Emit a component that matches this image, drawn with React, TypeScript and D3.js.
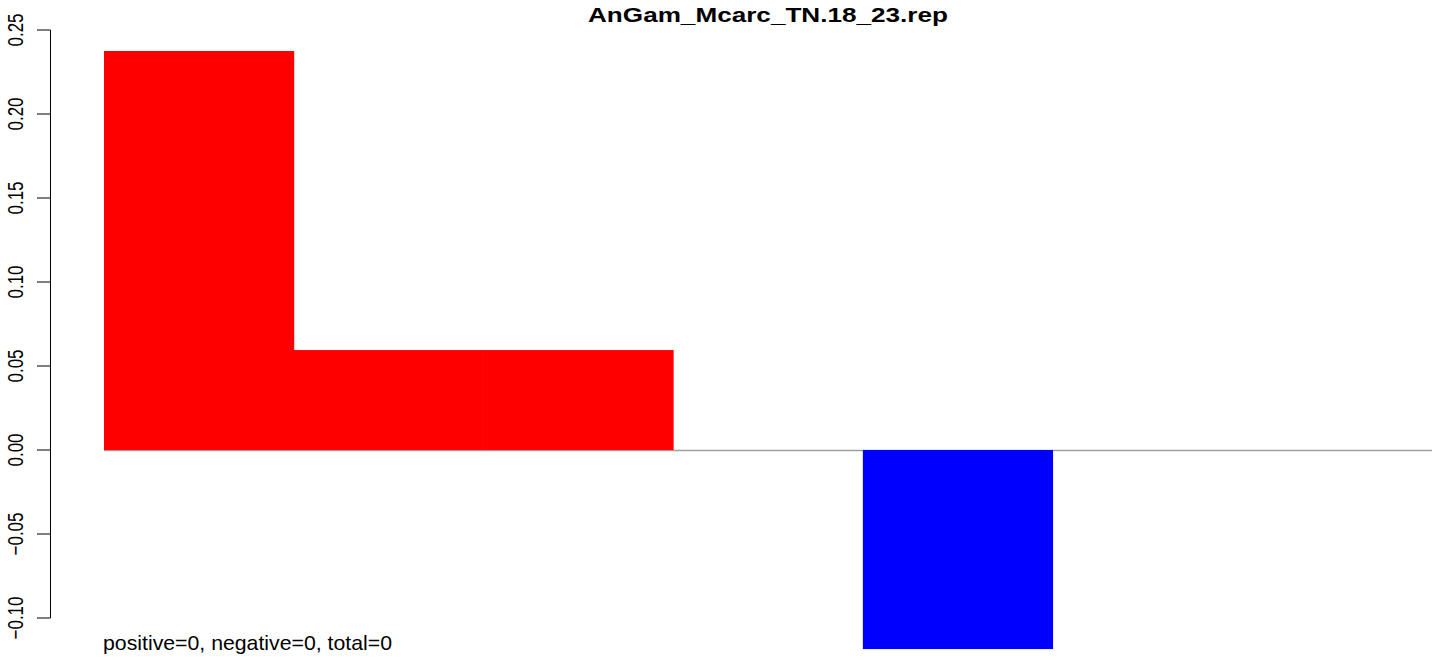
import React from "react";
import * as d3 from "d3";

const categories = ["b1", "b2", "b3", "b4", "b5", "b6", "b7"];
const values = [0.2375, 0.0595, 0.0595, 0, -0.1185, 0, 0];
const yTicks = [-0.1, -0.05, 0, 0.05, 0.1, 0.15, 0.2, 0.25];
const title = "AnGam_Mcarc_TN.18_23.rep";
const footnote = "positive=0, negative=0, total=0";

const W = 1444;
const H = 662;
const FONT = "'Liberation Sans', Arial, Helvetica, sans-serif";

export default function App() {
  const x = d3.scaleBand<string>().domain(categories).range([104, 1432]).padding(0);
  const y = d3.scaleLinear().domain([-0.1, 0.25]).range([618, 30]);
  const fmt = (v: number) => {
    const s = d3.format(".2f")(Math.abs(v));
    return v < 0 ? "\u2212" + s : s;
  };
  return (
    <svg
      width={W}
      height={H}
      style={{ position: "absolute", left: 0, top: 0, background: "#fff" }}
      fontFamily={FONT}
    >
      <rect x={0} y={0} width={W} height={H} fill="#fff" />
      <text
        x={588}
        y={22}
        fontSize={21}
        fontWeight="bold"
        textLength={360}
        lengthAdjust="spacingAndGlyphs"
      >
        {title}
      </text>
      <line x1={104} x2={1432} y1={y(0) + 0.5} y2={y(0) + 0.5} stroke="#a0a0a0" strokeWidth={1.5} />
      {categories.map((c, i) => {
        const v = values[i];
        if (v === 0) return null;
        const y0 = y(Math.max(0, v));
        const y1 = y(Math.min(0, v));
        return (
          <rect
            key={c}
            x={x(c)!}
            y={y0}
            width={x.bandwidth() + 0.5}
            height={y1 - y0}
            fill={v > 0 ? "#ff0000" : "#0000ff"}
          />
        );
      })}
      <line x1={50.5} x2={50.5} y1={y(0.25)} y2={y(-0.1)} stroke="#000" strokeWidth={1} />
      {yTicks.map((t) => (
        <g key={t}>
          <line x1={37} x2={50.5} y1={y(t)} y2={y(t)} stroke="#000" strokeWidth={1} />
          <text
            transform={`translate(23,${y(t)}) scale(1.3,1) rotate(-90)`}
            textAnchor="middle"
            fontSize={17}
          >
            {fmt(t)}
          </text>
        </g>
      ))}
      <text x={103} y={650} fontSize={21} textLength={289} lengthAdjust="spacingAndGlyphs">
        {footnote}
      </text>
    </svg>
  );
}
